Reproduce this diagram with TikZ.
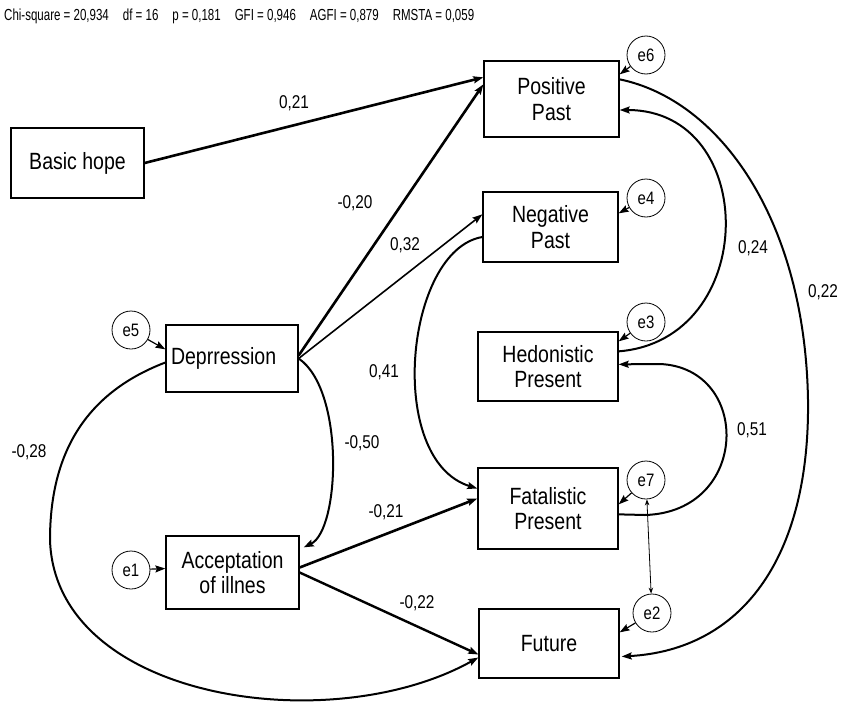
\documentclass[tikz,border=0pt]{standalone}
\usepackage{fontspec}
\setmainfont{Liberation Sans}[FakeStretch=0.83]
\newfontfamily\headfont{Liberation Sans}[FakeStretch=0.72]
\usepackage{tikz}
\usetikzlibrary{arrows.meta}
\usetikzlibrary{calc}
\tikzset{>={Stealth[length=10pt,width=7pt,inset=1.5pt]}}
\tikzset{var/.style={draw, line width=1.3pt, align=center, inner sep=0pt, font=\fontsize{23.5}{25.5}\selectfont}}
\tikzset{err/.style={draw, circle, line width=0.8pt, minimum size=38pt, inner sep=0pt, font=\fontsize{18}{18}\selectfont}}
\tikzset{coef/.style={inner sep=0pt, font=\fontsize{18.5}{18.5}\selectfont}}

\begin{document}
\begin{tikzpicture}[x=1pt, y=-1pt]
\useasboundingbox (0,0) rectangle (843,720);
\node[anchor=west, inner sep=0pt, font=\headfont\fontsize{16}{16}\selectfont] (fit) at (4,16)
 {Chi-square = 20,934\hspace{14pt}df = 16\hspace{14pt}p = 0,181\hspace{14pt}GFI = 0,946\hspace{14pt}AGFI = 0,879\hspace{14pt}RMSTA = 0,059};

\node[var, minimum width=133pt, minimum height=70pt] (hope) at (77.5,163) {Basic hope};
\node[var, minimum width=135pt, minimum height=76pt] (pospast) at (551.5,99) {Positive\\Past};
\node[var, minimum width=135pt, minimum height=70pt] (negpast) at (550.5,227) {Negative\\Past};
\node[var, minimum width=140pt, minimum height=69pt] (hedon) at (548,366.5) {Hedonistic\\Present};
\node[var, minimum width=140pt, minimum height=81pt] (fatal) at (548,508.5) {Fatalistic\\Present};
\node[var, minimum width=140pt, minimum height=69pt] (future) at (549,643.5) {Future};
\node[var, minimum width=132pt, minimum height=67pt, text width=122pt, align=left] (depr) at (232,358.5) {Deprression};
\node[var, minimum width=133pt, minimum height=73pt] (accept) at (232.5,572.5) {Acceptation\\of illnes};

\node[err] (e6) at (646,55) {e6};
\node[err] (e4) at (646,198) {e4};
\node[err] (e3) at (646,322) {e3};
\node[err] (e7) at (646,480) {e7};
\node[err] (e2) at (652,613) {e2};
\node[err] (e5) at (131,330) {e5};
\node[err] (e1) at (131,570) {e1};

\draw[->, line width=1.2pt] (e6) -- ($(pospast.north east)+(0,14)$);
\draw[->, line width=1.2pt] (e4) -- ($(negpast.north east)+(0,22)$);
\draw[->, line width=1.2pt] (e3) -- ($(hedon.north east)+(0,10)$);
\draw[->, line width=1.2pt] (e7) -- ($(fatal.north east)+(0,37)$);
\draw[->, line width=1.2pt] (e2) -- ($(future.north east)+(0,24)$);
\draw[->, line width=1.2pt] (e5) -- ($(depr.north west)+(0,25)$);
\draw[->, line width=1.2pt] (e1) -- ($(accept.west)+(0,-4)$);
\draw[<->, >={Stealth[length=6pt,width=4.5pt]}, line width=0.8pt] (e7) -- (e2);

\draw[->, line width=2.6pt] (hope.east) -- ($(pospast.north west)+(0,17)$);
\draw[->, line width=2.6pt] ($(depr.east)+(0,-3)$) -- ($(pospast.north west)+(0,24)$);
\draw[->, line width=1.6pt] (depr.east) -- ($(negpast.north west)+(0,23)$);
\draw[->, line width=2pt] (depr.east) .. controls (345,390) and (340,530) .. ($(accept.north east)+(4,12)$);
\draw[->, line width=2pt] ($(negpast.west)+(0,10)$) .. controls (405,250) and (385,460) .. ($(fatal.west)+(0,-20)$);
\draw[->, line width=2.6pt] ($(accept.east)+(0,-5)$) -- ($(fatal.west)+(0,-10)$);
\draw[->, line width=2.4pt] (accept.east) -- ($(future.west)+(0,11)$);
\draw[->, line width=2pt] ($(depr.west)+(0,4)$) .. controls (80,395) and (50,460) .. (50,540)
 .. controls (55,700) and (330,740) .. ($(future.west)+(0,14)$);
\draw[->, line width=2pt] ($(hedon.north east)+(0,20)$) .. controls (760,340) and (760,110) .. ($(pospast.east)+(0,11)$);
\draw[->, line width=2pt] ($(pospast.north east)+(0,19)$) .. controls (720,100) and (805,220) .. (808,400)
 .. controls (810,560) and (740,650) .. ($(future.east)+(2,13)$);
\draw[->, line width=2pt] ($(fatal.north east)+(0,47)$) -- (645,515) .. controls (750,512) and (752,368) .. (660,364)
 -- ($(hedon.north east)+(0,33)$);

\node[coef] (c1) at (294,103) {0,21};
\node[coef] (c2) at (355,203) {-0,20};
\node[coef] (c3) at (405,245) {0,32};
\node[coef] (c4) at (384,372) {0,41};
\node[coef] (c5) at (362,443) {-0,50};
\node[coef] (c6) at (386,512) {-0,21};
\node[coef] (c7) at (417,603) {-0,22};
\node[coef] (c8) at (29,452) {-0,28};
\node[coef] (c9) at (753,248) {0,24};
\node[coef] (c10) at (823,292) {0,22};
\node[coef] (c11) at (752,430) {0,51};
\end{tikzpicture}
\end{document}
